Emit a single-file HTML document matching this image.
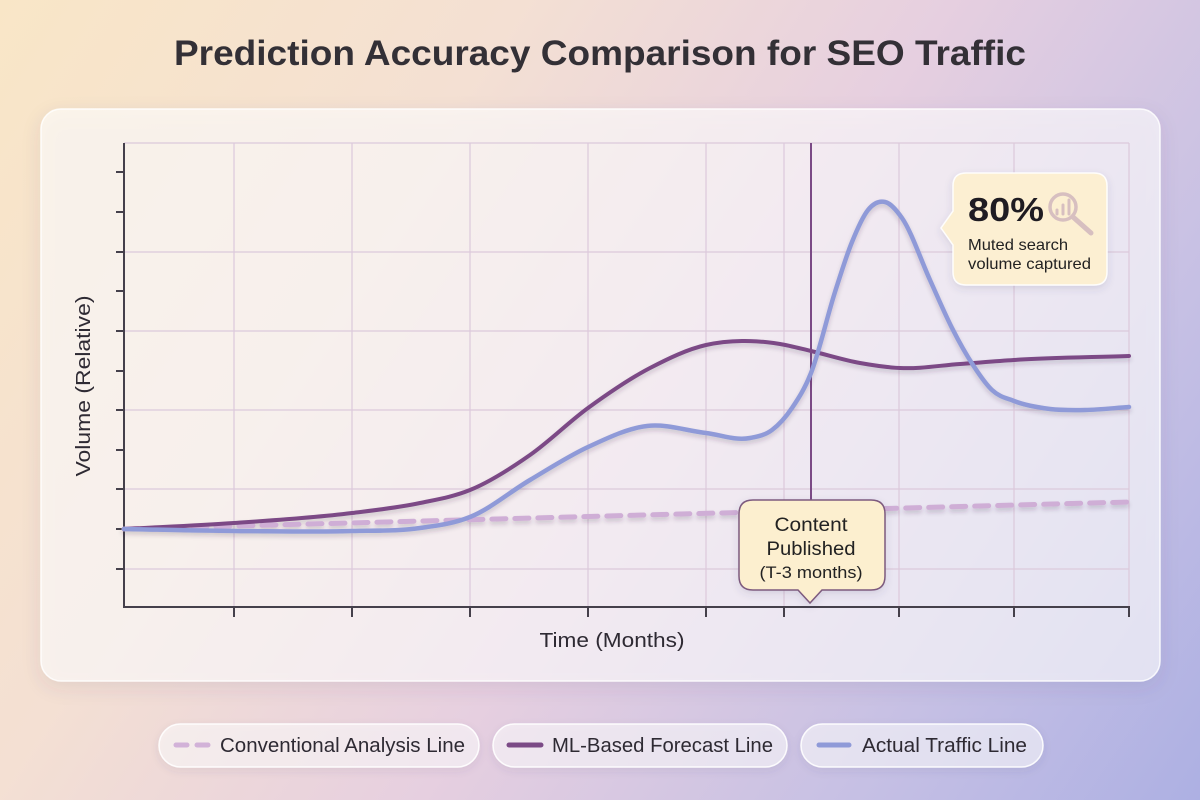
<!DOCTYPE html>
<html><head><meta charset="utf-8">
<style>
html,body{margin:0;padding:0;}
body{width:1200px;height:800px;overflow:hidden;font-family:"Liberation Sans",sans-serif;}
svg{display:block;}
</style></head>
<body>
<svg width="1200" height="800" viewBox="0 0 1200 800" xmlns="http://www.w3.org/2000/svg">
<defs>
  <linearGradient id="bg" x1="0" y1="0" x2="1200" y2="800" gradientUnits="userSpaceOnUse">
    <stop offset="0" stop-color="#f9e6c7"/>
    <stop offset="0.3" stop-color="#f4e0d3"/>
    <stop offset="0.55" stop-color="#e6cfe0"/>
    <stop offset="0.8" stop-color="#c6c0e4"/>
    <stop offset="1" stop-color="#adb0e3"/>
  </linearGradient>
  <filter id="cardsh" x="-10%" y="-10%" width="120%" height="130%">
    <feDropShadow dx="0" dy="6" stdDeviation="9" flood-color="#4a3a6a" flood-opacity="0.16"/>
  </filter>
  <filter id="pillsh" x="-10%" y="-30%" width="120%" height="170%">
    <feDropShadow dx="0" dy="3" stdDeviation="4" flood-color="#4a3a6a" flood-opacity="0.14"/>
  </filter>
  <filter id="linesh" x="-5%" y="-10%" width="110%" height="130%">
    <feDropShadow dx="0" dy="3" stdDeviation="2" flood-color="#3a2a4a" flood-opacity="0.2"/>
  </filter>
</defs>

<rect x="0" y="0" width="1200" height="800" fill="url(#bg)"/>

<!-- Title -->
<text x="600" y="65" text-anchor="middle" font-family="Liberation Sans, sans-serif" font-weight="bold" font-size="35" fill="#333036" textLength="852" lengthAdjust="spacingAndGlyphs">Prediction Accuracy Comparison for SEO Traffic</text>

<!-- Card -->
<rect x="41" y="109" width="1119" height="572" rx="20" ry="20" fill="rgba(255,255,255,0.62)" stroke="rgba(255,255,255,0.85)" stroke-width="1.5" filter="url(#cardsh)"/>

<!-- Grid -->
<g stroke="#dcc9db" stroke-width="1.2" fill="none">
  <line x1="124" y1="143" x2="1129" y2="143"/>
  <line x1="124" y1="252" x2="1129" y2="252"/>
  <line x1="124" y1="331" x2="1129" y2="331"/>
  <line x1="124" y1="410" x2="1129" y2="410"/>
  <line x1="124" y1="489" x2="1129" y2="489"/>
  <line x1="124" y1="569" x2="1129" y2="569"/>
  <line x1="234" y1="143" x2="234" y2="607"/>
  <line x1="352" y1="143" x2="352" y2="607"/>
  <line x1="470" y1="143" x2="470" y2="607"/>
  <line x1="588" y1="143" x2="588" y2="607"/>
  <line x1="706" y1="143" x2="706" y2="607"/>
  <line x1="784" y1="143" x2="784" y2="607"/>
  <line x1="899" y1="143" x2="899" y2="607"/>
  <line x1="1014" y1="143" x2="1014" y2="607"/>
  <line x1="1129" y1="143" x2="1129" y2="607"/>
</g>

<!-- Axes -->
<g stroke="#45404b" stroke-width="2" fill="none">
  <line x1="124" y1="143" x2="124" y2="608"/>
  <line x1="123" y1="607" x2="1130" y2="607"/>
  <line x1="116" y1="172" x2="124" y2="172"/>
  <line x1="116" y1="212" x2="124" y2="212"/>
  <line x1="116" y1="252" x2="124" y2="252"/>
  <line x1="116" y1="291" x2="124" y2="291"/>
  <line x1="116" y1="331" x2="124" y2="331"/>
  <line x1="116" y1="371" x2="124" y2="371"/>
  <line x1="116" y1="410" x2="124" y2="410"/>
  <line x1="116" y1="450" x2="124" y2="450"/>
  <line x1="116" y1="489" x2="124" y2="489"/>
  <line x1="116" y1="529" x2="124" y2="529"/>
  <line x1="116" y1="569" x2="124" y2="569"/>
  <line x1="234" y1="607" x2="234" y2="617"/>
  <line x1="352" y1="607" x2="352" y2="617"/>
  <line x1="470" y1="607" x2="470" y2="617"/>
  <line x1="588" y1="607" x2="588" y2="617"/>
  <line x1="706" y1="607" x2="706" y2="617"/>
  <line x1="784" y1="607" x2="784" y2="617"/>
  <line x1="899" y1="607" x2="899" y2="617"/>
  <line x1="1014" y1="607" x2="1014" y2="617"/>
  <line x1="1129" y1="607" x2="1129" y2="617"/>
</g>

<!-- Axis labels -->
<text transform="translate(90,386) rotate(-90)" text-anchor="middle" font-family="Liberation Sans, sans-serif" font-size="20" fill="#2e2a33" textLength="181" lengthAdjust="spacingAndGlyphs">Volume (Relative)</text>
<text x="612" y="647" text-anchor="middle" font-family="Liberation Sans, sans-serif" font-size="20" fill="#2e2a33" textLength="145" lengthAdjust="spacingAndGlyphs">Time (Months)</text>

<!-- Marker vertical line -->
<line x1="811" y1="143" x2="811" y2="500" stroke="#7b4a86" stroke-width="2"/>

<!-- Series -->
<g filter="url(#linesh)" fill="none" stroke-linecap="round" stroke-linejoin="round">
  <path id="conv" d="M124,529 L1129,502" stroke="#cfaed6" stroke-width="5" stroke-dasharray="14 9"/>
  <path id="ml" d="M124,529 L234,523 L352,514 L470,490 L588,407 L706,345 L811,351 L900,368 L1014,360 L1129,356" stroke="#7b4a86" stroke-width="4"/>
  <path id="act" d="M124,529 L234,531 L352,531 L470,517 L588,447 L647,426 L750,439 L811,373 L885,202 L973,365 L1014,401 L1129,407" stroke="#8f9ad8" stroke-width="4.5"/>
</g>

<!-- Content Published callout -->
<g filter="url(#pillsh)">
  <path d="M753,500 H871 Q885,500 885,514 V576 Q885,590 871,590 H822 L810,603 L798,590 H753 Q739,590 739,576 V514 Q739,500 753,500 Z" fill="#fcefcf" stroke="#7d5a7e" stroke-width="1.5"/>
</g>
<text x="811" y="531" text-anchor="middle" font-family="Liberation Sans, sans-serif" font-size="19" fill="#222" textLength="73" lengthAdjust="spacingAndGlyphs">Content</text>
<text x="811" y="555" text-anchor="middle" font-family="Liberation Sans, sans-serif" font-size="19" fill="#222" textLength="89" lengthAdjust="spacingAndGlyphs">Published</text>
<text x="811" y="578" text-anchor="middle" font-family="Liberation Sans, sans-serif" font-size="16.5" fill="#222" textLength="103" lengthAdjust="spacingAndGlyphs">(T-3 months)</text>

<!-- 80% callout -->
<g filter="url(#pillsh)">
  <path d="M966,173 H1094 Q1107,173 1107,186 V272 Q1107,285 1094,285 H966 Q953,285 953,272 V245 L941,228 L953,211 V186 Q953,173 966,173 Z" fill="#fcefd2" stroke="rgba(255,255,255,0.9)" stroke-width="1.5"/>
</g>
<text x="968" y="221" font-family="Liberation Sans, sans-serif" font-weight="bold" font-size="33" fill="#1f1c22" textLength="76" lengthAdjust="spacingAndGlyphs">80%</text>
<g fill="none" stroke="#d7bfc0" stroke-width="3.5" stroke-linecap="round">
  <circle cx="1063" cy="207" r="13"/>
  <line x1="1073" y1="217" x2="1091" y2="233" stroke-width="5"/>
  <line x1="1057" y1="214" x2="1057" y2="210" stroke-width="3"/>
  <line x1="1063" y1="214" x2="1063" y2="205" stroke-width="3"/>
  <line x1="1069" y1="214" x2="1069" y2="200" stroke-width="3"/>
</g>
<text x="968" y="250" font-family="Liberation Sans, sans-serif" font-size="16" fill="#222" textLength="100" lengthAdjust="spacingAndGlyphs">Muted search</text>
<text x="968" y="269" font-family="Liberation Sans, sans-serif" font-size="16" fill="#222" textLength="123" lengthAdjust="spacingAndGlyphs">volume captured</text>

<!-- Legend -->
<g filter="url(#pillsh)" fill="rgba(255,255,255,0.55)" stroke="rgba(255,255,255,0.9)" stroke-width="1.5">
  <rect x="159" y="724" width="320" height="43" rx="21.5"/>
  <rect x="493" y="724" width="294" height="43" rx="21.5"/>
  <rect x="801" y="724" width="242" height="43" rx="21.5"/>
</g>
<g stroke-linecap="round" stroke-width="5" fill="none">
  <line x1="176" y1="745" x2="187" y2="745" stroke="#d2b2d8"/>
  <line x1="197" y1="745" x2="208" y2="745" stroke="#d2b2d8"/>
  <line x1="509" y1="745" x2="541" y2="745" stroke="#7b4a86"/>
  <line x1="819" y1="745" x2="849" y2="745" stroke="#8f9ad8"/>
</g>
<g font-family="Liberation Sans, sans-serif" font-size="20" fill="#2e2a33">
  <text x="220" y="752" textLength="245" lengthAdjust="spacingAndGlyphs">Conventional Analysis Line</text>
  <text x="552" y="752" textLength="221" lengthAdjust="spacingAndGlyphs">ML-Based Forecast Line</text>
  <text x="862" y="752" textLength="165" lengthAdjust="spacingAndGlyphs">Actual Traffic Line</text>
</g>
</svg>

<script>
(function(){
  var ml=[[124,529],[234,523],[352,513],[420,503],[470,490],[530,455],[588,408],[650,368],[706,345],[742,341],[780,344],[811,351],[860,363],[900,368],[960,364],[1014,360],[1129,356]];
  var act=[[124,529],[234,531],[352,531],[420,528],[470,517],[530,480],[588,447],[647,426],[706,433],[750,438],[772,430],[792,408],[811,373],[835,292],[852,242],[868,210],[885,202],[902,218],[930,280],[952,328],[973,365],[992,390],[1014,401],[1050,409],[1085,410],[1129,407]];
  function hermite(p){
    var n=p.length,m=[];
    for(var i=0;i<n;i++){
      if(i===0) m.push((p[1][1]-p[0][1])/(p[1][0]-p[0][0]));
      else if(i===n-1) m.push((p[n-1][1]-p[n-2][1])/(p[n-1][0]-p[n-2][0]));
      else {
        var d0=(p[i][1]-p[i-1][1])/(p[i][0]-p[i-1][0]);
        var d1=(p[i+1][1]-p[i][1])/(p[i+1][0]-p[i][0]);
        var h0=p[i][0]-p[i-1][0],h1=p[i+1][0]-p[i][0];
        m.push((d0*h1+d1*h0)/(h0+h1));
      }
    }
    var d="M"+p[0][0]+","+p[0][1];
    for(var j=0;j<n-1;j++){
      var h=p[j+1][0]-p[j][0];
      var c1x=p[j][0]+h/3,c1y=p[j][1]+m[j]*h/3;
      var c2x=p[j+1][0]-h/3,c2y=p[j+1][1]-m[j+1]*h/3;
      d+=" C"+c1x.toFixed(1)+","+c1y.toFixed(1)+" "+c2x.toFixed(1)+","+c2y.toFixed(1)+" "+p[j+1][0]+","+p[j+1][1];
    }
    return d;
  }
  document.getElementById("ml").setAttribute("d",hermite(ml));
  document.getElementById("act").setAttribute("d",hermite(act));
})();
</script>
</body></html>
